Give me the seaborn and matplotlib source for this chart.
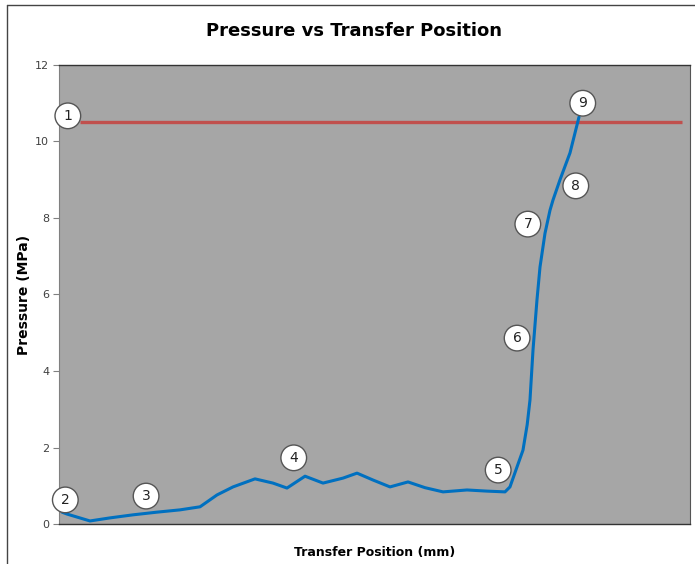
import numpy as np
import pandas as pd
import matplotlib
matplotlib.use("Agg")
import matplotlib.pyplot as plt
from matplotlib.lines import Line2D
import seaborn as sns

# transfer position (mm, relative scale) and measured pressure (MPa)
position = [0.48, 1.27, 4.91, 8.08, 11.73, 15.53, 19.18, 22.35, 25.04, 27.58,
            31.06, 33.91, 36.13, 38.99, 41.84, 45.01, 47.23, 49.76, 52.46, 55.31,
            58.0, 60.86, 64.66, 67.83, 70.68, 71.47, 72.58, 73.53, 74.2, 74.64, 75.12,
            75.75, 76.23, 77.02, 77.81, 78.29, 79.40, 80.98, 82.41]
pressure = [0.31, 0.26, 0.08, 0.16, 0.24, 0.31, 0.37, 0.45, 0.76, 0.97,
            1.18, 1.07, 0.94, 1.25, 1.07, 1.20, 1.33, 1.15, 0.97, 1.10,
            0.95, 0.84, 0.89, 0.86, 0.84, 0.97, 1.49, 1.93, 2.6, 3.24, 4.55,
            5.86, 6.72, 7.60, 8.20, 8.47, 9.00, 9.70, 10.64]

limit_x = [3.3, 98.7]
limit_y = [10.5, 10.5]

marker_labels = ["1", "2", "3", "4", "5", "6", "7", "8", "9"]
marker_x = [1.4, 1.0, 13.8, 37.2, 69.6, 72.6, 74.3, 81.9, 83.0]
marker_y = [10.67, 0.63, 0.73, 1.73, 1.41, 4.86, 7.84, 8.84, 11.0]

df = pd.DataFrame({"Transfer Position (mm)": position, "Pressure (MPa)": pressure})

sns.set_style("white")
plt.rcParams["font.family"] = ["DejaVu Sans"]
plt.rcParams["text.color"] = "black"
plt.rcParams["axes.labelcolor"] = "black"

fig = plt.figure(figsize=(6.95, 5.64), dpi=100)
ax = fig.add_axes([0.0849, 0.0709, 0.9079, 0.8139])
ax.set_facecolor("#a6a6a6")

ax.plot(limit_x, limit_y, color="#c0504d", lw=2.4, solid_capstyle="butt")
sns.lineplot(data=df, x="Transfer Position (mm)", y="Pressure (MPa)", ax=ax,
             color="#0070c0", lw=2.2, sort=False)

for lab, x, y in zip(marker_labels, marker_x, marker_y):
    ax.text(x, y, lab, ha="center", va="center", fontsize=10, color="#222222",
            bbox=dict(boxstyle="circle,pad=0.42", fc="white", ec="#555555", lw=1))

ax.set_xlim(0, 100)
ax.set_ylim(0, 12)
ax.set_yticks(range(0, 13, 2))
ax.set_xticks([])
ax.tick_params(axis="y", direction="out", length=4, width=0.8, color="#808080",
               labelsize=8, labelcolor="#404040", left=True, pad=3)
for s in ["top", "bottom"]:
    ax.spines[s].set_color("#333333")
    ax.spines[s].set_linewidth(1.0)
ax.spines["left"].set_color("#808080")
ax.spines["right"].set_color("#555555")

ax.set_xlabel("Transfer Position (mm)", fontsize=9, fontweight="bold", labelpad=16)
ax.set_ylabel("Pressure (MPa)", fontsize=10, fontweight="bold", labelpad=3)
fig.text(0.51, 0.945, "Pressure vs Transfer Position", ha="center", va="center",
         fontsize=13, fontweight="bold")

# outer chart border (left and top)
fig.add_artist(Line2D([0.01, 0.01], [0.0, 0.991], color="#444444", lw=1, transform=fig.transFigure))
fig.add_artist(Line2D([0.01, 1.0], [0.991, 0.991], color="#444444", lw=1, transform=fig.transFigure))

fig.savefig("out.png", dpi=100)
